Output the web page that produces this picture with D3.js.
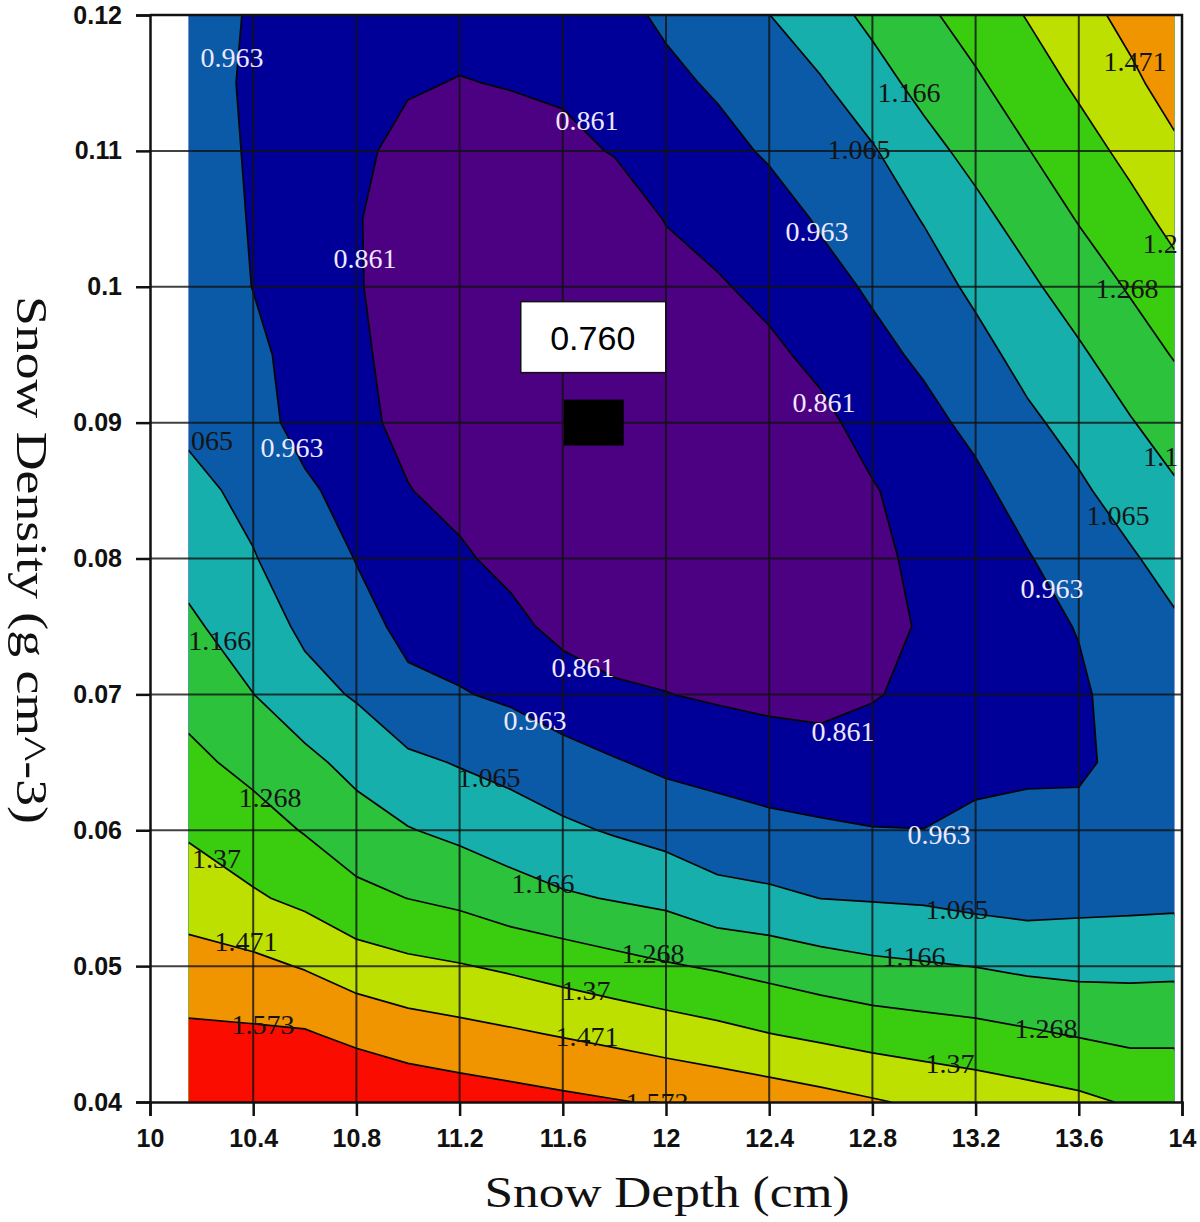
<!DOCTYPE html>
<html>
<head>
<meta charset="utf-8">
<script src="https://cdn.jsdelivr.net/npm/d3@7"></script>
<style>
  html, body { margin: 0; padding: 0; background: #ffffff; }
  svg { display: block; }
</style>
</head>
<body>
<svg id="chart" width="1200" height="1222"></svg>
<script>
// ---------------- data ----------------
// grid nodes of the modelled surface
const depthNodes = [10.15, 10.4, 10.6, 10.8, 11.0, 11.2, 11.4, 11.6, 11.8, 12.0,
                    12.2, 12.4, 12.6, 12.8, 13.0, 13.2, 13.4, 13.6, 13.8, 13.97];
const densityNodes = [0.12, 0.115, 0.11, 0.105, 0.10, 0.095, 0.09, 0.085, 0.08,
                      0.075, 0.07, 0.065, 0.06, 0.055, 0.05, 0.045, 0.04];
// surface values, one row per density node (top row = 0.12), one column per depth node
const surfaceValues = [
  [1.010, 0.953, 0.925, 0.905, 0.885, 0.885, 0.890, 0.895, 0.935, 0.979, 1.022, 1.064, 1.127, 1.188, 1.249, 1.312, 1.375, 1.437, 1.500, 1.550],
  [1.010, 0.946, 0.915, 0.895, 0.868, 0.858, 0.865, 0.874, 0.890, 0.941, 0.976, 1.018, 1.057, 1.130, 1.195, 1.254, 1.322, 1.387, 1.451, 1.511],
  [1.015, 0.951, 0.910, 0.876, 0.840, 0.835, 0.830, 0.840, 0.866, 0.903, 0.933, 0.975, 1.017, 1.056, 1.135, 1.196, 1.264, 1.331, 1.396, 1.454],
  [1.020, 0.956, 0.908, 0.865, 0.832, 0.820, 0.810, 0.800, 0.810, 0.865, 0.893, 0.920, 0.974, 1.016, 1.070, 1.139, 1.204, 1.274, 1.339, 1.397],
  [1.030, 0.961, 0.913, 0.866, 0.832, 0.815, 0.800, 0.780, 0.785, 0.827, 0.852, 0.885, 0.930, 0.976, 1.024, 1.084, 1.147, 1.212, 1.278, 1.337],
  [1.040, 0.986, 0.924, 0.873, 0.835, 0.810, 0.795, 0.770, 0.770, 0.800, 0.820, 0.843, 0.884, 0.936, 0.980, 1.034, 1.096, 1.152, 1.219, 1.274],
  [1.047, 1.000, 0.930, 0.882, 0.840, 0.812, 0.790, 0.765, 0.765, 0.785, 0.800, 0.825, 0.839, 0.895, 0.936, 0.987, 1.047, 1.098, 1.160, 1.212],
  [1.091, 1.040, 0.979, 0.927, 0.864, 0.835, 0.800, 0.775, 0.770, 0.785, 0.795, 0.815, 0.830, 0.854, 0.902, 0.940, 1.002, 1.050, 1.107, 1.153],
  [1.135, 1.070, 1.015, 0.960, 0.903, 0.874, 0.835, 0.800, 0.780, 0.795, 0.805, 0.815, 0.830, 0.845, 0.877, 0.918, 0.956, 1.013, 1.054, 1.102],
  [1.182, 1.118, 1.045, 0.992, 0.942, 0.920, 0.886, 0.833, 0.800, 0.820, 0.830, 0.825, 0.835, 0.845, 0.866, 0.901, 0.936, 0.967, 1.025, 1.051],
  [1.235, 1.167, 1.100, 1.055, 0.982, 0.969, 0.947, 0.913, 0.881, 0.863, 0.849, 0.837, 0.830, 0.854, 0.885, 0.907, 0.932, 0.950, 1.000, 1.030],
  [1.292, 1.239, 1.192, 1.134, 1.086, 1.058, 1.030, 0.997, 0.970, 0.942, 0.926, 0.911, 0.902, 0.909, 0.922, 0.942, 0.952, 0.945, 0.995, 1.020],
  [1.357, 1.309, 1.262, 1.212, 1.171, 1.143, 1.117, 1.083, 1.056, 1.030, 1.008, 0.989, 0.977, 0.966, 0.964, 0.980, 0.980, 0.994, 1.005, 1.025],
  [1.429, 1.382, 1.347, 1.294, 1.267, 1.244, 1.205, 1.179, 1.160, 1.141, 1.095, 1.085, 1.064, 1.058, 1.052, 1.035, 1.025, 1.035, 1.039, 1.043],
  [1.508, 1.495, 1.464, 1.420, 1.393, 1.376, 1.354, 1.328, 1.301, 1.277, 1.257, 1.233, 1.207, 1.186, 1.175, 1.164, 1.146, 1.138, 1.140, 1.143],
  [1.593, 1.587, 1.582, 1.547, 1.519, 1.502, 1.484, 1.464, 1.444, 1.421, 1.398, 1.372, 1.350, 1.328, 1.313, 1.300, 1.281, 1.261, 1.244, 1.246],
  [1.680, 1.675, 1.670, 1.672, 1.644, 1.626, 1.611, 1.595, 1.579, 1.563, 1.547, 1.528, 1.505, 1.480, 1.455, 1.433, 1.413, 1.392, 1.360, 1.352]
];
const contourLevels = [0.861, 0.963, 1.065, 1.166, 1.268, 1.37, 1.471, 1.573];
const bandColors = ["#4c0082", "#000098", "#0a5aa8", "#16afab", "#2cc23c", "#3acc0e", "#bee000", "#f09400", "#fa0c00"];

const xTicks = [10, 10.4, 10.8, 11.2, 11.6, 12, 12.4, 12.8, 13.2, 13.6, 14];
const xTickLabels = ["10", "10.4", "10.8", "11.2", "11.6", "12", "12.4", "12.8", "13.2", "13.6", "14"];
const yTicks = [0.04, 0.05, 0.06, 0.07, 0.08, 0.09, 0.1, 0.11, 0.12];
const yTickLabels = ["0.04", "0.05", "0.06", "0.07", "0.08", "0.09", "0.1", "0.11", "0.12"];

const minimumPoint = { depth: 11.72, density: 0.09, value: "0.760" };

// contour value labels as they appear: [text, depth, density, light?]
const contourLabels = [
  ["0.963", 10.318, 0.1169, 1], ["0.861", 11.694, 0.1122, 1], ["1.166", 12.942, 0.1143, 0],
  ["1.065", 12.748, 0.1101, 0], ["1.471", 13.818, 0.1166, 0], ["1.2", 13.916, 0.1032, 0],
  ["1.268", 13.787, 0.0999, 0], ["0.963", 12.585, 0.1041, 1], ["0.861", 10.833, 0.1021, 1],
  ["0.861", 12.612, 0.0915, 1], ["1.1", 13.918, 0.0875, 0], ["1.065", 13.752, 0.0832, 0],
  ["0.963", 13.496, 0.0778, 1], ["065", 10.240, 0.0887, 0], ["0.963", 10.550, 0.0882, 1],
  ["1.166", 10.270, 0.0740, 0], ["0.861", 11.678, 0.0720, 1], ["0.963", 11.492, 0.0681, 1],
  ["0.861", 12.686, 0.0673, 1], ["1.065", 11.314, 0.0639, 0], ["1.268", 10.465, 0.0624, 0],
  ["0.963", 13.058, 0.0597, 1], ["1.37", 10.258, 0.0579, 0], ["1.166", 11.523, 0.0561, 0],
  ["1.065", 13.128, 0.0542, 0], ["1.268", 11.950, 0.0509, 0], ["1.166", 12.961, 0.0507, 0],
  ["1.471", 10.372, 0.0518, 0], ["1.37", 11.690, 0.0482, 0], ["1.268", 13.473, 0.0454, 0],
  ["1.573", 10.438, 0.0457, 0], ["1.471", 11.694, 0.0448, 0], ["1.37", 13.101, 0.0428, 0],
  ["1.573", 11.965, 0.0400, 0]
];

// ---------------- drawing ----------------
const svg = d3.select("#chart");
const x = d3.scaleLinear().domain([10, 14]).range([150, 1182]);
const y = d3.scaleLinear().domain([0.04, 0.12]).range([1102, 15]);

const nx = depthNodes.length, ny = densityNodes.length;
const px0 = x(depthNodes[0]), px1 = x(depthNodes[nx - 1]);
const py0 = y(densityNodes[0]), py1 = y(densityNodes[ny - 1]);

svg.append("defs").append("clipPath").attr("id", "plotClip")
  .append("rect").attr("x", px0).attr("y", py0).attr("width", px1 - px0).attr("height", py1 - py0);

// grid index space -> pixel space, through the data scales
const gx = d3.scaleLinear().domain(depthNodes.map((d, i) => i + 0.5)).range(depthNodes.map(d => x(d)));
const gy = d3.scaleLinear().domain(densityNodes.map((d, i) => i + 0.5)).range(densityNodes.map(d => y(d)));
const toPixels = d3.geoTransform({ point(a, b) { this.stream.point(gx(a), gy(b)); } });
const path = d3.geoPath(toPixels);

const contours = d3.contours().size([nx, ny]).thresholds(contourLevels)(surfaceValues.flat());

const plot = svg.append("g").attr("clip-path", "url(#plotClip)");
plot.append("rect").attr("x", px0).attr("y", py0).attr("width", px1 - px0).attr("height", py1 - py0)
  .attr("fill", bandColors[0]);
plot.selectAll("path.band").data(contours).join("path").attr("class", "band")
  .attr("d", path).attr("fill", (d, i) => bandColors[i + 1]);
plot.selectAll("path.iso").data(contours).join("path").attr("class", "iso")
  .attr("d", path).attr("fill", "none").attr("stroke", "#050505").attr("stroke-width", 1.7)
  .attr("stroke-linejoin", "round");

// grid lines
const grid = svg.append("g");
grid.selectAll("line.h").data(yTicks.slice(1, -1)).join("line").attr("class", "h")
  .attr("x1", 150).attr("x2", 1182).attr("y1", d => y(d)).attr("y2", d => y(d))
  .attr("stroke", "#111").attr("stroke-opacity", 0.8).attr("stroke-width", 2);
grid.selectAll("line.v").data(xTicks.slice(1, -1)).join("line").attr("class", "v")
  .attr("y1", 15).attr("y2", 1102).attr("x1", d => x(d)).attr("x2", d => x(d))
  .attr("stroke", "#111").attr("stroke-opacity", 0.8).attr("stroke-width", 2);

// frame (top & right)
svg.append("path").attr("d", `M150,${y(0.12)}H${x(14)}V${y(0.04)}`)
  .attr("fill", "none").attr("stroke", "#111").attr("stroke-width", 2.5);

// axes
const yAxis = svg.append("g").attr("transform", "translate(150,0)")
  .call(d3.axisLeft(y).tickValues(yTicks).tickFormat((d, i) => yTickLabels[i]).tickSize(14).tickPadding(14));
const xAxis = svg.append("g").attr("transform", `translate(0,${y(0.04)})`)
  .call(d3.axisBottom(x).tickValues(xTicks).tickFormat((d, i) => xTickLabels[i]).tickSize(14).tickPadding(13));
[yAxis, xAxis].forEach(a => {
  a.select(".domain").attr("stroke", "#111").attr("stroke-width", 2.5);
  a.selectAll(".tick line").attr("stroke", "#111").attr("stroke-width", 2.5);
  a.selectAll(".tick text").attr("fill", "#111")
    .style("font-family", "'Liberation Sans', Arial, sans-serif")
    .style("font-size", "25px").style("font-weight", "bold");
});

// contour labels
const lab = svg.append("g");
lab.selectAll("text").data(contourLabels).join("text")
  .attr("x", d => x(d[1])).attr("y", d => y(d[2]))
  .attr("text-anchor", "middle").attr("dominant-baseline", "central")
  .style("font-family", "'Liberation Serif', 'Times New Roman', serif")
  .style("font-size", "28px")
  .attr("fill", d => d[3] ? "#eee8ff" : "#141414")
  .attr("clip-path", d => d[2] <= 0.0405 ? "url(#plotClip)" : null)
  .text(d => d[0]);

// minimum marker and its value box
const mx = x(minimumPoint.depth), my = y(minimumPoint.density);
svg.append("rect").attr("x", mx - 30).attr("y", my - 23).attr("width", 60).attr("height", 46).attr("fill", "#000");
svg.append("rect").attr("x", mx - 73).attr("y", my - 121).attr("width", 145).attr("height", 71)
  .attr("fill", "#fff").attr("stroke", "#111").attr("stroke-width", 1.5);
svg.append("text").attr("x", mx - 1).attr("y", my - 85).attr("text-anchor", "middle")
  .attr("dominant-baseline", "central")
  .style("font-family", "'Liberation Sans', Arial, sans-serif").style("font-size", "34px")
  .attr("fill", "#000").text(minimumPoint.value);

// axis titles
svg.append("text").attr("x", 667).attr("y", 1207).attr("text-anchor", "middle")
  .attr("textLength", 365).attr("lengthAdjust", "spacingAndGlyphs")
  .style("font-family", "'Liberation Serif', 'Times New Roman', serif").style("font-size", "44px")
  .attr("fill", "#111").text("Snow Depth (cm)");
svg.append("text").attr("transform", "translate(17,560) rotate(90)").attr("text-anchor", "middle")
  .attr("textLength", 528).attr("lengthAdjust", "spacingAndGlyphs")
  .style("font-family", "'Liberation Serif', 'Times New Roman', serif").style("font-size", "44px")
  .attr("fill", "#111").text("Snow Density (g cm^-3)");
</script>
</body>
</html>
